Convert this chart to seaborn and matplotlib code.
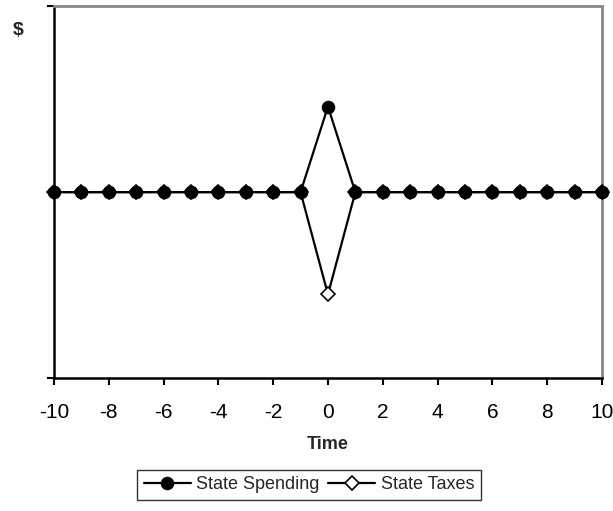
import numpy as np
import pandas as pd
import matplotlib
matplotlib.use("Agg")
import matplotlib.pyplot as plt
import seaborn as sns

# data
time = list(range(-10, 11))
spending = [1.0] * 10 + [1.46] + [1.0] * 10
taxes = [1.0] * 10 + [0.45] + [1.0] * 10

df = pd.DataFrame({"Time": time, "State Spending": spending, "State Taxes": taxes})

sns.set_style("white")
plt.rcParams["font.family"] = ["Liberation Sans", "DejaVu Sans"]
plt.rcParams["axes.unicode_minus"] = False

fig = plt.figure(figsize=(6.13, 5.11), dpi=100)
ax = fig.add_axes([0.088, 0.260, 0.894, 0.728])

# taxes first so the filled circles sit on top at the baseline
sns.lineplot(data=df, x="Time", y="State Taxes", ax=ax, color="black", lw=1.6,
             marker="D", markersize=7, markerfacecolor="white", markeredgecolor="black",
             markeredgewidth=1.2, label="State Taxes", zorder=3, clip_on=False)
sns.lineplot(data=df, x="Time", y="State Spending", ax=ax, color="black", lw=1.6,
             marker="o", markersize=9, markerfacecolor="black", markeredgecolor="black",
             label="State Spending", zorder=4, clip_on=False)

ax.set_xlim(-10, 10)
ax.set_ylim(0, 2)
ax.set_xticks(range(-10, 11, 2))
ax.set_yticks([0, 2])
ax.set_yticklabels([])
ax.tick_params(axis="both", direction="out", length=5, width=1.5, colors="black",
               bottom=True, left=True, labelsize=15, pad=13)
ax.tick_params(axis="y", labelleft=False)

for side in ["left", "bottom"]:
    ax.spines[side].set_color("black")
    ax.spines[side].set_linewidth(1.8)
for side in ["top", "right"]:
    ax.spines[side].set_visible(True)
    ax.spines[side].set_color("#888888")
    ax.spines[side].set_linewidth(2)

ax.set_xlabel("Time", fontsize=13, fontweight="bold", labelpad=10)
ax.set_ylabel("")
fig.text(0.03, 0.94, "$", fontsize=14, fontweight="bold", ha="center", va="center")

handles, labels = ax.get_legend_handles_labels()
order = [labels.index("State Spending"), labels.index("State Taxes")]
ax.legend([handles[i] for i in order], [labels[i] for i in order],
          loc="center", bbox_to_anchor=(0.504, 0.051), bbox_transform=fig.transFigure,
          ncol=2, fontsize=13, frameon=True, fancybox=False, edgecolor="black",
          handlelength=2.6, columnspacing=0.5, handletextpad=0.3, borderpad=0.35)
ax.get_legend().get_frame().set_linewidth(1.0)

fig.savefig("out.png", dpi=100)
